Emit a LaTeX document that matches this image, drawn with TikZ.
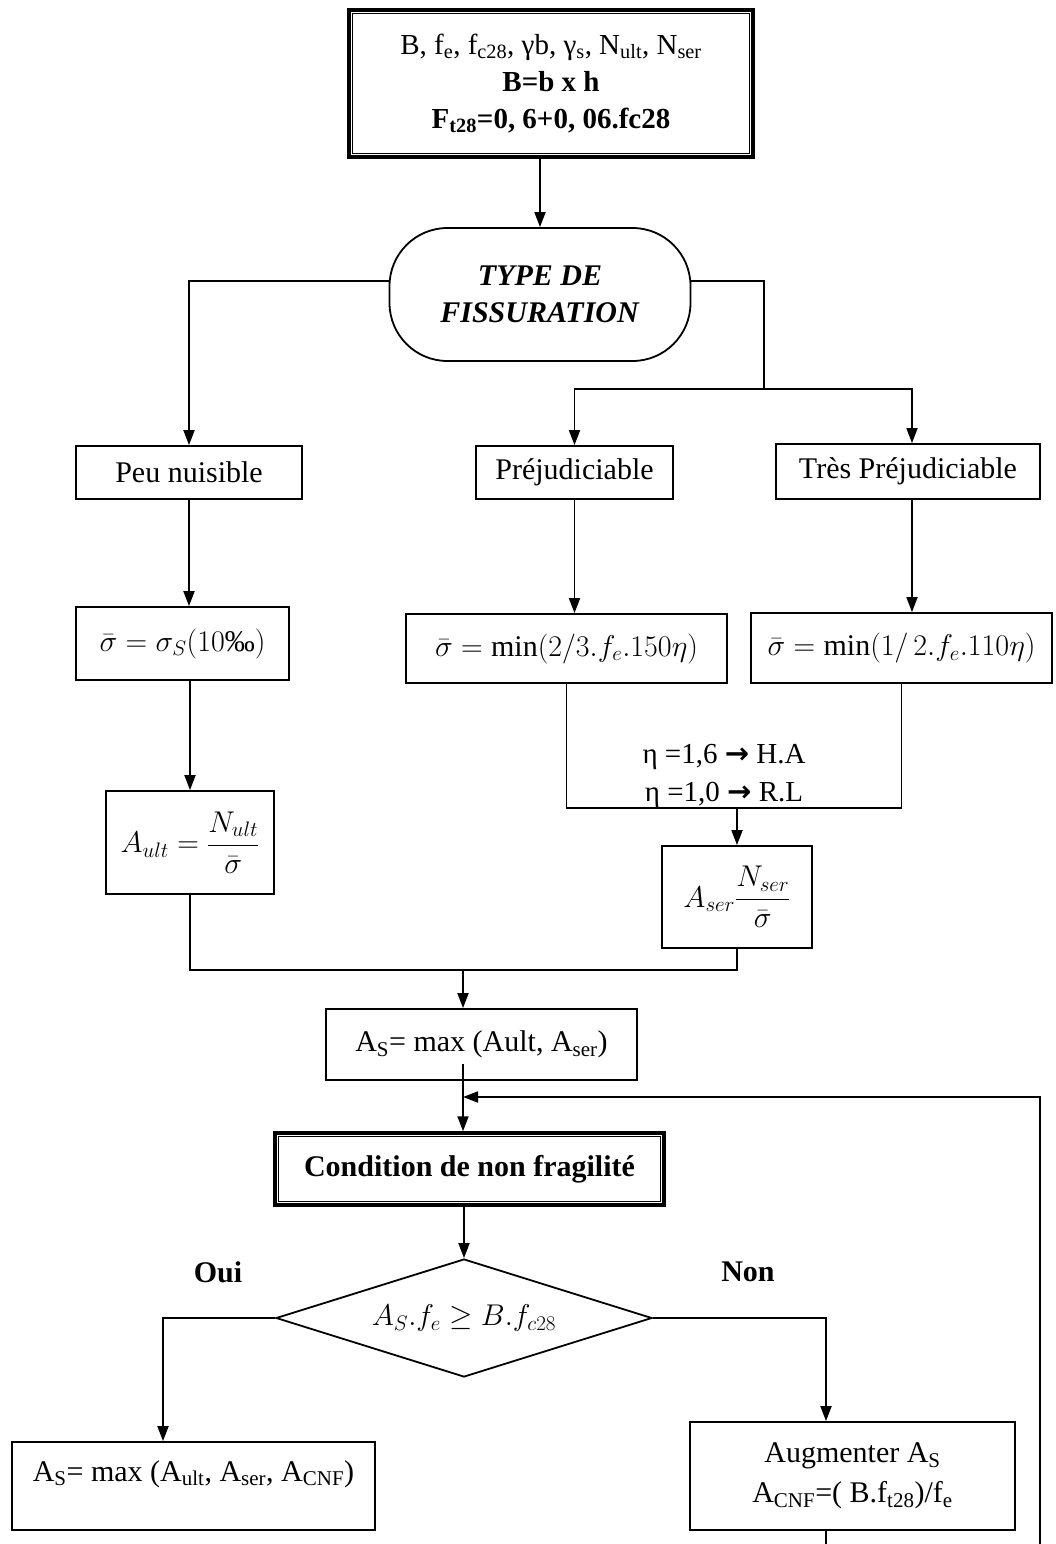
\RequirePackage{fix-cm}
\documentclass[tikz,border=0pt]{standalone}
\usepackage{amsmath}
\usepackage{fontspec}
\setmainfont{Liberation Serif}
\newfontfamily\djv{DejaVu Sans}
\usetikzlibrary{arrows.meta,shapes.geometric}
\begin{document}
\begin{tikzpicture}[x=1pt,y=-1pt,
  every node/.style={font=\fontsize{30}{37}\selectfont, inner sep=0pt},
  box/.style={draw, line width=1.8pt, align=center},
  thickbox/.style={draw, line width=3.5pt, align=center},
  line/.style={line width=1.8pt},
  arr/.style={line width=1.8pt, -{Triangle[length=15pt,width=11pt]}}]
\useasboundingbox (0,0) rectangle (1055,1544);

% nodes
\node[thickbox, minimum width=404pt, minimum height=147pt, font=\fontsize{29}{37}\selectfont] (top) at (551,83.5)
  {B, f\textsubscript{e}, f\textsubscript{c28}, γb, γ\textsubscript{s}, N\textsubscript{ult}, N\textsubscript{ser}\\
   \textbf{B=b x h}\\
   \textbf{F\textsubscript{t28}=0, 6+0, 06.fc28}};
\draw[line width=0.9pt] ([shift={(5,5)}]top.north west) rectangle ([shift={(-5,-5)}]top.south east);

\node[draw, line width=1.8pt, rounded corners=58pt, minimum width=301pt, minimum height=133pt, align=center] (term) at (540,294.5)
  {\textbf{\textit{TYPE DE}}\\ \textbf{\textit{FISSURATION}}};

\node[box, minimum width=226pt, minimum height=53pt] (peu) at (189,472.5) {Peu nuisible};
\node[box, minimum width=197pt, minimum height=53pt] (prej) at (574.5,472.5) {Préjudiciable};
\node[box, minimum width=264pt, minimum height=55pt] (tres) at (908,471.5) {Très Préjudiciable};

\node[box, minimum width=213pt, minimum height=73pt] (sig1) at (182.5,643.5) {$\bar{\sigma} = \sigma_S(10\text{‰})$};
\node[box, minimum width=321pt, minimum height=69pt] (sig2) at (566.5,648.5) {$\bar{\sigma} = \min(2/3.f_e.150\eta)$};
\node[box, minimum width=301pt, minimum height=70pt] (sig3) at (901.5,648) {$\bar{\sigma} = \min(1/\,2.f_e.110\eta)$};

\node[box, minimum width=168pt, minimum height=103pt] (ault) at (190,842.5) {$A_{ult} = \dfrac{N_{ult}}{\bar{\sigma}}$};

\node[align=center, font=\fontsize{29}{38}\selectfont] (eta) at (724,776)
  {η =1,6 {\djv\bfseries →} H.A\\ η =1,0 {\djv\bfseries →} R.L};

\node[box, minimum width=150pt, minimum height=102pt] (aser) at (737,897) {$A_{ser}\dfrac{N_{ser}}{\bar{\sigma}}$};

\node[box, minimum width=311pt, minimum height=71pt] (as) at (481.5,1044.5) {A\textsubscript{S}= max (Ault, A\textsubscript{ser})};

\node[thickbox, minimum width=389pt, minimum height=72pt] (cond) at (469.5,1169) {\textbf{Condition de non fragilité}};
\draw[line width=0.9pt] ([shift={(5,5)}]cond.north west) rectangle ([shift={(-5,-5)}]cond.south east);

\node[draw, line width=1.8pt, shape=diamond, aspect=3.2, minimum width=376pt, minimum height=118pt] (dia) at (464,1318)
  {$A_S.f_e \geq B.f_{c28}$};

\node (oui) at (218,1272) {\textbf{Oui}};
\node (non) at (748,1272) {\textbf{Non}};

\node[box, minimum width=363pt, minimum height=88pt] (lbox) at (193.5,1486) {};
\node (ltext) at (193.5,1474) {A\textsubscript{S}= max (A\textsubscript{ult}, A\textsubscript{ser}, A\textsubscript{CNF})};

\node[box, minimum width=325pt, minimum height=108pt, font=\fontsize{30}{40}\selectfont] (rbox) at (852.5,1476)
  {Augmenter A\textsubscript{S}\\ A\textsubscript{CNF}=( B.f\textsubscript{t28})/f\textsubscript{e}};

% coordinates
\coordinate (split) at (764,389);
\coordinate (mj) at (737,808);
\coordinate (mj2) at (463,970);
\coordinate (lb) at (1040,1544);
\coordinate (lt) at (1040,1097);
\coordinate (rb) at (826,1544);
\path (mj2 |- as.south) ++(0,-17) coordinate (asout);

% connectors
\draw[arr] (term.north |- top.south) -- (term.north);
\draw[arr] ([yshift=13.5pt]term.west) -| (peu.north);
\draw[line] ([yshift=13.5pt]term.east) -| (split);
\draw[arr] (split) -| (prej.north);
\draw[arr] (split) -| ([xshift=4pt]tres.north);

\draw[arr] (peu.south) -- (peu.south |- sig1.north);
\draw[arr] (prej.south) -- (prej.south |- sig2.north);
\draw[arr] ([xshift=4pt]tres.south) -- ([xshift=4pt]tres.south |- sig3.north);

\draw[arr] (ault.north |- sig1.south) -- (ault.north);
\draw[line] (sig2.south) |- (mj);
\draw[line] (sig3.south) |- (mj);
\draw[arr] (mj) -- (aser.north);

\draw[line] (ault.south) |- (mj2);
\draw[line] (aser.south) |- (mj2);
\draw[arr] (mj2) -- (mj2 |- as.north);

\draw[arr] (asout) -- (asout |- cond.north);
\draw[arr] (lb) -- (lt) -- (asout |- lt);

\draw[arr] (cond.south -| dia.north) -- (dia.north);
\draw[arr] (dia.west) -| ([xshift=-30.5pt]lbox.north);
\draw[arr] (dia.east) -| ([xshift=-26.5pt]rbox.north);
\draw[line] ([xshift=-26.5pt]rbox.south) -- (rb);
\end{tikzpicture}
\end{document}
